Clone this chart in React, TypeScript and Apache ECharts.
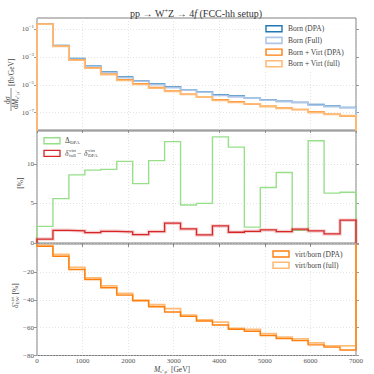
import React, { useEffect, useRef } from 'react';
import * as echarts from 'echarts';

// ---------- data ----------
const binEdges = [0, 350, 700, 1050, 1400, 1750, 2100, 2450, 2800, 3150, 3500, 3850, 4200, 4550, 4900, 5250, 5600, 5950, 6300, 6650, 7000];

// dσ/dM [fb/GeV]
const bornDPA = [0.24, 6.8e-3, 7.9e-4, 2.3e-4, 8.5e-5, 3.7e-5, 2.0e-5, 1.17e-5, 7.2e-6, 4.4e-6, 3.2e-6, 2.0e-6, 1.6e-6, 1.12e-6, 8.5e-7, 6.8e-7, 5.5e-7, 4.0e-7, 3.0e-7, 2.4e-7];
const bornFull = [0.235, 6.4e-3, 7.2e-4, 2.1e-4, 7.7e-5, 3.3e-5, 1.85e-5, 1.05e-5, 6.3e-6, 4.2e-6, 3.05e-6, 1.75e-6, 1.4e-6, 1.1e-6, 7.9e-7, 6.2e-7, 5.4e-7, 3.5e-7, 2.8e-7, 2.25e-7];
const bornVirtDPA = [0.234, 6.2e-3, 6.5e-4, 1.7e-4, 5.9e-5, 2.35e-5, 1.2e-5, 6.5e-6, 3.7e-6, 2.1e-6, 1.41e-6, 8.5e-7, 6.3e-7, 4.2e-7, 2.9e-7, 2.2e-7, 1.66e-7, 1.12e-7, 7.9e-8, 5.8e-8];
const bornVirtFull = [0.232, 5.9e-3, 6.0e-4, 1.6e-4, 5.4e-5, 2.1e-5, 1.1e-5, 5.9e-6, 3.4e-6, 2.05e-6, 1.39e-6, 7.7e-7, 5.5e-7, 4.3e-7, 2.8e-7, 2.05e-7, 1.72e-7, 1.0e-7, 7.5e-8, 6.1e-8];

// [%]
const deltaDPA = [2.1, 5.6, 8.6, 9.2, 9.3, 10.3, 7.5, 10.4, 12.8, 4.8, 5.0, 13.4, 12.1, 2.0, 7.0, 8.9, 1.6, 12.9, 6.3, 6.4];
const deltaVirtDiff = [0.5, 1.6, 1.53, 1.31, 1.48, 1.4, 1.06, 1.44, 2.5, 1.78, 1.02, 2.16, 1.36, 1.48, 1.65, 1.44, 1.74, 1.53, 1.14, 2.88];

// virt/born [%]
const virtBornDPA = [-1.7, -8.8, -18.3, -25.5, -31.4, -36.7, -40.7, -45.0, -48.8, -51.9, -55.2, -58.1, -61.2, -62.6, -65.7, -67.9, -69.3, -72.4, -74.0, -76.0];
const virtBornFull = [-1.0, -7.4, -16.7, -24.3, -30.0, -35.5, -40.2, -43.6, -46.4, -51.0, -54.5, -56.0, -60.5, -61.2, -64.3, -66.9, -68.1, -71.0, -73.1, -72.9];

const logTicks = [-7, -5, -3, -1];
const midTicks = [0, 5, 10];
const botTicks = [-20, -40, -60, -80];

// ---------- helpers ----------
const FONT = 'Liberation Serif';
const SPINE = '#808080';
const GRIDC = '#d0d0d0';
const LABC = '#555';

function stepPts(vals: number[], base: number, tf: (v: number) => number = (v) => v) {
  const pts: number[][] = [[binEdges[0], base]];
  vals.forEach((v, i) => {
    pts.push([binEdges[i], tf(v)]);
    pts.push([binEdges[i + 1], tf(v)]);
  });
  pts.push([binEdges[binEdges.length - 1], base]);
  return pts;
}

const minus = (v: number) => (v < 0 ? '\u2212' + Math.abs(v) : String(v));

function lineSeries(data: number[][], xi: number, color: string, width: number, z = 2) {
  return {
    type: 'line',
    xAxisIndex: xi,
    yAxisIndex: xi,
    data,
    symbol: 'none',
    showSymbol: false,
    clip: true,
    z,
    lineStyle: { color, width, join: 'miter' },
    emphasis: { disabled: true },
  };
}

const gridTop = [18, 131, 244];
const gridH = [112, 112, 111.5];

function xAxis(i: number) {
  return {
    type: 'value',
    gridIndex: i,
    min: 0,
    max: 7000,
    interval: 1000,
    axisLine: { show: false },
    axisTick: { show: true, length: 3, lineStyle: { color: SPINE, width: 0.8 } },
    axisLabel: {
      show: i === 2,
      formatter: (v: number) => String(Math.round(v)),
      fontFamily: FONT,
      fontSize: 7,
      color: LABC,
      margin: 1.5,
    },
    splitLine: { show: true, lineStyle: { color: GRIDC, type: [1, 2], width: 0.6 } },
  };
}

function yAxisBase(i: number, min: number, max: number, ticks: number[], labelFmt: any, rich?: any) {
  return {
    type: 'value',
    gridIndex: i,
    min,
    max,
    axisLine: { show: false },
    axisTick: { show: true, length: 3, customValues: ticks, lineStyle: { color: SPINE, width: 0.8 } },
    axisLabel: {
      customValues: ticks,
      formatter: labelFmt,
      fontFamily: FONT,
      fontSize: 7,
      color: LABC,
      margin: 3,
      lineHeight: 10,
      rich,
    },
    splitLine: { show: true, lineStyle: { color: GRIDC, type: [1, 2], width: 0.6 } },
  };
}

function yAxisRight(i: number, min: number, max: number, ticks: number[]) {
  return {
    type: 'value',
    gridIndex: i,
    position: 'right',
    min,
    max,
    axisLine: { show: false },
    axisTick: { show: true, length: 3, customValues: ticks, lineStyle: { color: SPINE, width: 0.8 } },
    axisLabel: { show: false, customValues: ticks },
    splitLine: { show: false },
  };
}

function legendEntry(x: number, y: number, color: string, width: number, label: any, tx: number) {
  const els: any[] = [
    {
      type: 'rect',
      shape: { x, y: y - 3, width: 16, height: 6 },
      style: { fill: '#fff', stroke: color, lineWidth: width },
      z: 20,
    },
  ];
  if (typeof label === 'string') {
    els.push({
      type: 'text',
      x: tx,
      y,
      style: { text: label, fontFamily: FONT, fontSize: 7.5, fill: '#444', verticalAlign: 'middle', align: 'left' },
      z: 20,
    });
  } else {
    els.push(...label);
  }
  return els;
}

function txt(x: number, y: number, text: string, size: number, extra: any = {}) {
  return {
    type: 'text',
    x,
    y,
    z: 20,
    style: { text, fontFamily: FONT, fontSize: size, fill: '#444', verticalAlign: 'middle', align: 'left', ...extra },
  };
}

// δ^{sup}_{sub} built from separate texts, left anchored at x
function deltaScripts(x: number, y: number, sup: string, sub: string) {
  return [
    txt(x, y, 'δ', 7.5, { fontStyle: 'italic' }),
    txt(x + 4, y - 2.8, sup, 5),
    txt(x + 4, y + 2.6, sub, 5),
  ];
}

const option: any = {
  animation: false,
  backgroundColor: '#fff',
  grid: [0, 1, 2].map((i) => ({
    left: 37,
    width: 319,
    top: gridTop[i],
    height: gridH[i],
    show: true,
    borderColor: SPINE,
    borderWidth: 1,
    backgroundColor: 'transparent',
    containLabel: false,
  })),
  xAxis: [xAxis(0), xAxis(1), xAxis(2)],
  yAxis: [
    yAxisBase(0, -8.245, -0.187, logTicks, (v: number) => `10{s|\u2212${Math.abs(Math.round(v))}}`, {
      s: { fontSize: 5, lineHeight: 6, verticalAlign: 'top', fontFamily: FONT, color: LABC },
    }),
    yAxisBase(1, 0, 14.14, midTicks, (v: number) => minus(Math.round(v))),
    yAxisBase(2, -80, 0, botTicks, (v: number) => minus(Math.round(v))),
    yAxisRight(0, -8.245, -0.187, logTicks),
    yAxisRight(1, 0, 14.14, midTicks),
    yAxisRight(2, -80, 0, [0, -20, -40, -60, -80]),
  ],
  series: [
    lineSeries(stepPts(bornDPA, -20, Math.log10), 0, '#1f77b4', 1.4, 2),
    lineSeries(stepPts(bornFull, -20, Math.log10), 0, '#aec7e8', 1.8, 3),
    lineSeries(stepPts(bornVirtDPA, -20, Math.log10), 0, '#ff7f0e', 1.4, 4),
    lineSeries(stepPts(bornVirtFull, -20, Math.log10), 0, '#ffbb78', 1.8, 5),
    lineSeries(stepPts(deltaDPA, 0), 1, '#98df8a', 1.4, 2),
    lineSeries(stepPts(deltaVirtDiff, 0), 1, 'rgba(214,39,40,0.22)', 3.5, 3),
    lineSeries(stepPts(deltaVirtDiff, 0), 1, '#d62728', 1.3, 4),
    lineSeries(stepPts(virtBornFull, 0), 2, '#ffbb78', 1.8, 2),
    lineSeries(stepPts(virtBornDPA, 0), 2, '#ff7f0e', 1.4, 3),
  ],
  graphic: [
    // title
    {
      type: 'text',
      x: 196,
      y: 13,
      z: 20,
      style: {
        text: 'pp \u2192 W{sup|+}Z \u2192 4{it|f} (FCC-hh setup)',
        fontFamily: FONT,
        fontSize: 10,
        fill: '#333',
        align: 'center',
        verticalAlign: 'middle',
        lineHeight: 12,
        rich: {
          sup: { fontSize: 6.5, lineHeight: 6, verticalAlign: 'top', fontFamily: FONT, fill: '#333' },
          it: { fontSize: 10, fontStyle: 'italic', fontFamily: FONT, fill: '#333' },
        },
      },
    },
    // top y label
    {
      type: 'group',
      x: 11,
      y: 74,
      rotation: Math.PI / 2,
      z: 20,
      children: [
        txt(-26, -3.8, 'd\u03c3', 7.5, { align: 'center' }),
        { type: 'line', z: 20, shape: { x1: -37, y1: 0, x2: -14, y2: 0 }, style: { stroke: '#444', lineWidth: 0.6 } },
        txt(-25.5, 4.2, 'd{it|M}{sub|e\u207a\u03bc\u207b}', 7.5, {
          align: 'center',
          lineHeight: 9,
          rich: {
            it: { fontStyle: 'italic', fontSize: 7.5, fontFamily: FONT, fill: '#444' },
            sub: { fontSize: 5, lineHeight: 5, verticalAlign: 'bottom', fontFamily: FONT, fill: '#444' },
          },
        }),
        txt(-12, 0, '[fb/GeV]', 7.5, { align: 'left' }),
      ],
    },
    // middle y label
    {
      type: 'text',
      x: 20,
      y: 183,
      rotation: Math.PI / 2,
      z: 20,
      style: { text: '[%]', fontFamily: FONT, fontSize: 7.5, fill: '#444', align: 'center', verticalAlign: 'middle' },
    },
    // bottom y label
    {
      type: 'group',
      x: 15,
      y: 297,
      rotation: Math.PI / 2,
      z: 20,
      children: [...deltaScripts(-11, 0, 'virt', 'EW'), txt(2.5, 0, '[%]', 7.5)],
    },
    // x label
    {
      type: 'text',
      x: 172,
      y: 369,
      z: 20,
      style: {
        text: '{it|M}{sub|e\u207a\u03bc\u207b} [GeV]',
        fontFamily: FONT,
        fontSize: 7.5,
        fill: '#444',
        align: 'center',
        verticalAlign: 'middle',
        lineHeight: 9,
        rich: {
          it: { fontStyle: 'italic', fontSize: 7.5, fontFamily: FONT, fill: '#444' },
          sub: { fontSize: 5, lineHeight: 5, verticalAlign: 'bottom', fontFamily: FONT, fill: '#444' },
        },
      },
    },
    // legend backgrounds
    { type: 'rect', z: 19, shape: { x: 262, y: 21, width: 92, height: 49 }, style: { fill: 'rgba(255,255,255,0.85)' } },
    { type: 'rect', z: 19, shape: { x: 40, y: 134, width: 68, height: 26 }, style: { fill: 'rgba(255,255,255,0.85)' } },
    { type: 'rect', z: 19, shape: { x: 269, y: 247, width: 85, height: 24 }, style: { fill: 'rgba(255,255,255,0.85)' } },
    // top legend
    ...legendEntry(266, 28.7, '#1f77b4', 1.4, 'Born (DPA)', 288),
    ...legendEntry(266, 40.4, '#aec7e8', 1.6, 'Born (Full)', 288),
    ...legendEntry(266, 52.1, '#ff7f0e', 1.4, 'Born + Virt (DPA)', 288),
    ...legendEntry(266, 63.8, '#ffbb78', 1.6, 'Born + Virt (full)', 288),
    // middle legend
    ...legendEntry(44, 140.7, '#98df8a', 1.4, [
      txt(65, 140.7, '\u0394', 7.5),
      txt(70, 142.8, 'DPA', 5),
    ], 65),
    ...legendEntry(44, 153.3, '#d62728', 1.3, [
      ...deltaScripts(65, 153.3, 'virt', 'full'),
      txt(77, 153.3, '\u2212', 7.5),
      ...deltaScripts(84, 153.3, 'virt', 'DPA'),
    ], 65),
    // bottom legend
    ...legendEntry(273, 254, '#ff7f0e', 1.4, 'virt/born (DPA)', 295),
    ...legendEntry(273, 265.3, '#ffbb78', 1.6, 'virt/born (full)', 295),
  ],
};

export default function App() {
  const ref = useRef<HTMLDivElement>(null);
  useEffect(() => {
    const chart = echarts.init(ref.current!, null, { renderer: 'svg' });
    chart.setOption(option);
    return () => chart.dispose();
  }, []);
  return (
    <div
      ref={ref}
      style={{ width: 374, height: 374, position: 'absolute', left: 0, top: 0, background: '#fff' }}
    />
  );
}
